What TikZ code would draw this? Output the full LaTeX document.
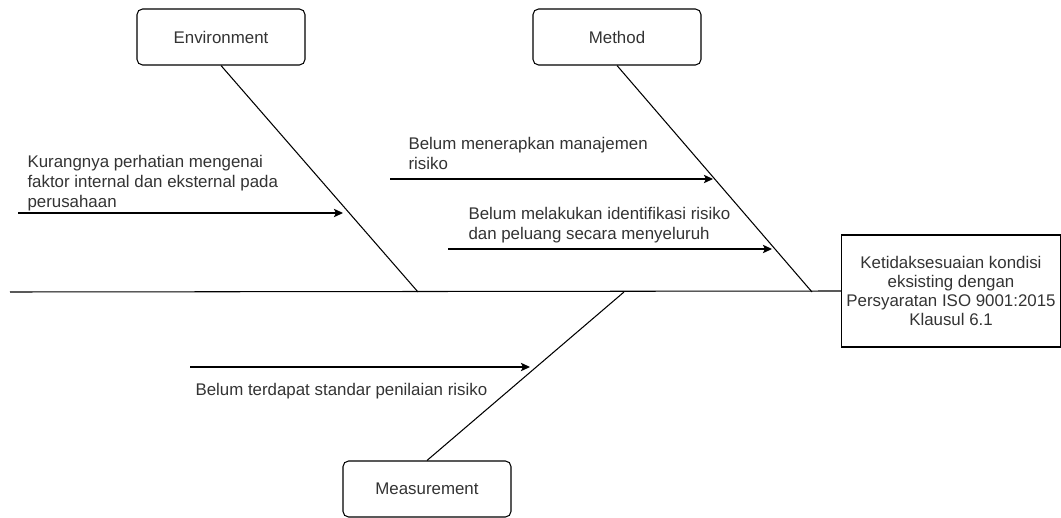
\documentclass[tikz,border=0pt]{standalone}
\usepackage{fontspec}
\setmainfont{Liberation Sans}
\usetikzlibrary{arrows.meta}
\newcommand{\txtsize}{\fontsize{12}{14.2}\selectfont}

\begin{document}
\begin{tikzpicture}[x=0.025cm, y=-0.025cm, line width=0.75pt,
    catbox/.style={draw, rounded corners=4pt, minimum width=4.2cm, minimum height=1.4cm, text=black!80, font=\txtsize},
    causetext/.style={anchor=north west, inner sep=0pt, align=left, text=black!80, font=\txtsize},
    causearrow/.style={-{Stealth[length=6.5pt, width=6pt, inset=1.5pt]}}]

    \useasboundingbox (0,0) rectangle (1061,518);

    % categories and effect
    \node [catbox] (env) at (221,37) {Environment};
    \node [catbox] (meth) at (617,37) {Method};
    \node [catbox] (meas) at (427,489) {Measurement};
    \node [draw, minimum width=5.45cm, minimum height=2.8cm, align=center, text=black!80,
        font=\fontsize{12}{13.6}\selectfont] (effect) at (951,291)
        {Ketidaksesuaian kondisi\\eksisting dengan\\Persyaratan ISO 9001:2015\\Klausul 6.1};

    % spine and bones
    \coordinate (tail) at (10,292);
    \coordinate (envend) at (418,292);
    \coordinate (methend) at (812,292);
    \coordinate (measend) at (624,292);
    \draw (tail) -- (effect.west);
    \draw (env.south) -- (envend);
    \draw (meth.south) -- (methend);
    \draw (meas.north) -- (measend);

    % causes
    \node [causetext] (c1) at (27,155)
        {Kurangnya perhatian mengenai\\faktor internal dan eksternal pada\\perusahaan};
    \node [causetext] (c2) at (408,137) {Belum menerapkan manajemen\\risiko};
    \node [causetext] (c3) at (468,207) {Belum melakukan identifikasi risiko\\dan peluang secara menyeluruh};
    \node [causetext] (c4) at (195,383) {Belum terdapat standar penilaian risiko};

    \coordinate (a1s) at (18,213);  \coordinate (a1e) at (343,213);
    \coordinate (a2s) at (390,179); \coordinate (a2e) at (713,179);
    \coordinate (a3s) at (448,249); \coordinate (a3e) at (772,249);
    \coordinate (a4s) at (190,367); \coordinate (a4e) at (530,367);
    \foreach \i in {1, ..., 4}
        \draw [causearrow] (a\i s) -- (a\i e);
\end{tikzpicture}
\end{document}
